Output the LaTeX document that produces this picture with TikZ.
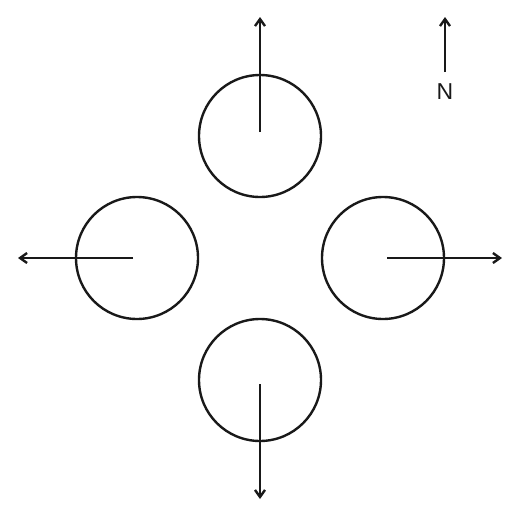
\documentclass[tikz,border=0pt]{standalone}
\usepackage{fontspec}
\setmainfont{Liberation Sans}
\usetikzlibrary{arrows.meta}
\begin{document}
\begin{tikzpicture}[x=1pt,y=-1pt,
  ring/.style={draw=black!90, line width=2.4pt, circle, minimum size=122pt, inner sep=0pt},
  arr/.style={draw=black!90, line width=2.4pt, -{Straight Barb[length=7pt,width=10pt,line width=2.4pt]}},
  lbl/.style={font=\fontsize{23}{23}\selectfont, inner sep=0pt, text=black!90}]
\useasboundingbox (0,0) rectangle (520,517);
\node[ring] (ct) at (260,136) {};
\node[ring] (cl) at (137,258) {};
\node[ring] (cr) at (383,258) {};
\node[ring] (cb) at (260,380) {};
\coordinate (st) at (260,132); \coordinate (et) at (260,17);
\coordinate (sl) at (133,258); \coordinate (el) at (18,258);
\coordinate (sr) at (387,258); \coordinate (er) at (502,258);
\coordinate (sb) at (260,384); \coordinate (eb) at (260,499);
\draw[arr] (st) -- (et);
\draw[arr] (sl) -- (el);
\draw[arr] (sr) -- (er);
\draw[arr] (sb) -- (eb);
\coordinate (sn) at (445,72); \coordinate (en) at (445,17);
\draw[arr] (sn) -- (en);
\node[lbl] (N) at (445,92) {N};
\end{tikzpicture}
\end{document}
